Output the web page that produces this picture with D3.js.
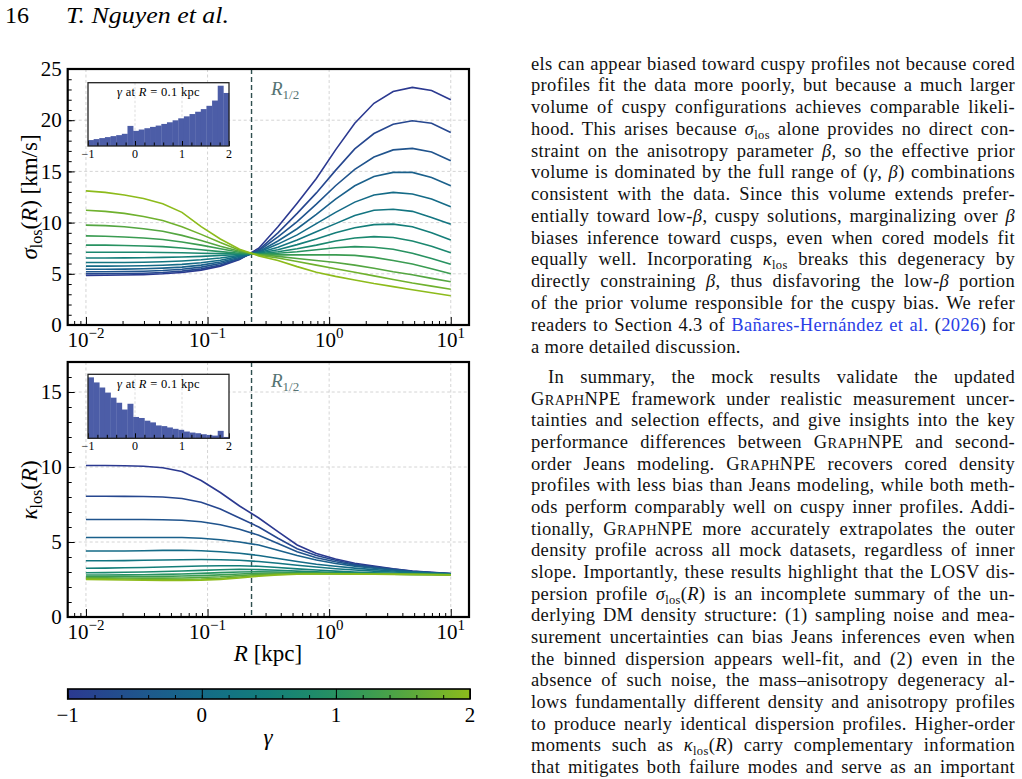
<!DOCTYPE html>
<html>
<head>
<meta charset="utf-8">
<title>sigma / kappa profiles</title>
<script src="https://cdnjs.cloudflare.com/ajax/libs/d3/7.8.5/d3.min.js"></script>
<style>
  body { margin: 0; background: #fff; }
  svg { display: block; font-family: "Liberation Serif", "Times New Roman", serif; }
</style>
</head>
<body>
<svg id="fig" width="1022" height="779"></svg>
<script>
// ---- data ----
const radius = [0.01, 0.01438, 0.02069, 0.02976, 0.04281, 0.06159, 0.08859, 0.1274, 0.1833, 0.2637,
                0.3793, 0.5456, 0.7848, 1.129, 1.624, 2.336, 3.360, 4.833, 6.952, 10];
const gammaValues = [-1, -0.75, -0.5, -0.25, 0, 0.25, 0.5, 0.75, 1, 1.25, 1.5, 1.75, 2];

// sigma_los(R) [km/s], one row per gamma
const sigmaLos = [
  [4.85,4.86,4.88,4.92,5.0,5.13,5.36,5.75,6.4,7.5,9.6,11.9,14.3,17.1,19.7,21.65,22.8,23.2,22.9,22.0],
  [5.0,5.0,5.02,5.06,5.13,5.26,5.48,5.85,6.45,7.35,9.0,10.9,12.9,15.1,17.2,18.7,19.6,19.95,19.7,18.8],
  [5.2,5.2,5.22,5.25,5.32,5.44,5.65,6.0,6.5,7.25,8.6,10.1,11.8,13.6,15.2,16.4,17.1,17.25,16.9,16.05],
  [5.45,5.45,5.46,5.49,5.55,5.65,5.85,6.15,6.6,7.15,8.2,9.4,10.8,12.3,13.6,14.5,14.9,14.9,14.4,13.6],
  [5.75,5.75,5.76,5.78,5.83,5.92,6.08,6.32,6.7,7.1,7.9,8.8,9.9,11.0,12.0,12.7,12.95,12.8,12.3,11.55],
  [6.1,6.1,6.11,6.13,6.17,6.25,6.37,6.55,6.8,7.05,7.6,8.3,9.1,9.9,10.7,11.2,11.3,11.1,10.5,9.83],
  [6.55,6.55,6.56,6.57,6.6,6.64,6.7,6.78,6.88,7.0,7.35,7.85,8.4,9.0,9.5,9.8,9.85,9.6,9.0,8.3],
  [7.1,7.1,7.1,7.1,7.08,7.05,7.0,6.97,6.93,6.95,7.15,7.45,7.8,8.2,8.5,8.63,8.55,8.2,7.7,7.06],
  [7.8,7.8,7.77,7.72,7.65,7.52,7.35,7.17,7.0,6.92,7.0,7.15,7.35,7.55,7.65,7.6,7.4,7.0,6.5,5.93],
  [8.7,8.67,8.6,8.5,8.35,8.1,7.8,7.45,7.1,6.9,6.85,6.85,6.85,6.85,6.8,6.6,6.3,5.95,5.5,5.01],
  [9.75,9.7,9.6,9.4,9.15,8.75,8.25,7.7,7.2,6.88,6.7,6.5,6.3,6.1,5.85,5.55,5.2,4.9,4.55,4.23],
  [11.2,11.1,10.9,10.6,10.2,9.6,8.85,8.05,7.3,6.82,6.55,6.2,5.85,5.5,5.15,4.8,4.45,4.1,3.8,3.49],
  [13.1,12.95,12.7,12.35,11.85,11.0,9.6,8.4,7.4,6.75,6.3,5.7,5.15,4.75,4.4,4.05,3.75,3.45,3.15,2.86]
];

// kappa_los(R), one row per gamma
const kappaLos = [
  [10.1,10.1,10.08,10.05,9.95,9.7,9.1,8.3,7.4,6.6,5.69,4.8,4.24,3.87,3.58,3.4,3.22,3.07,2.98,2.9],
  [8.05,8.05,8.04,8.03,8.0,7.9,7.65,7.2,6.6,6.0,5.25,4.55,4.1,3.78,3.52,3.35,3.19,3.05,2.97,2.9],
  [6.5,6.5,6.5,6.5,6.48,6.45,6.35,6.15,5.85,5.45,4.9,4.35,3.95,3.68,3.46,3.3,3.16,3.03,2.95,2.88],
  [5.3,5.3,5.3,5.3,5.3,5.3,5.25,5.15,5.0,4.8,4.45,4.1,3.8,3.57,3.39,3.25,3.13,3.02,2.94,2.88],
  [4.4,4.4,4.4,4.42,4.44,4.45,4.42,4.35,4.25,4.1,3.9,3.7,3.52,3.38,3.26,3.16,3.07,2.99,2.93,2.87],
  [3.75,3.75,3.76,3.78,3.8,3.82,3.83,3.82,3.78,3.7,3.58,3.45,3.33,3.22,3.13,3.06,3.0,2.95,2.9,2.86],
  [3.25,3.26,3.28,3.3,3.33,3.37,3.4,3.42,3.42,3.38,3.3,3.21,3.13,3.06,3.0,2.95,2.92,2.89,2.87,2.85],
  [2.95,2.96,2.98,3.0,3.03,3.07,3.11,3.15,3.18,3.16,3.12,3.06,3.01,2.97,2.94,2.91,2.89,2.87,2.85,2.84],
  [2.8,2.8,2.81,2.82,2.84,2.87,2.91,2.96,3.0,3.02,3.0,2.97,2.94,2.92,2.9,2.88,2.86,2.85,2.84,2.83],
  [2.7,2.7,2.7,2.7,2.71,2.73,2.76,2.81,2.87,2.92,2.93,2.92,2.91,2.9,2.88,2.87,2.85,2.84,2.83,2.82],
  [2.62,2.61,2.6,2.59,2.59,2.6,2.63,2.68,2.76,2.84,2.88,2.89,2.89,2.88,2.87,2.86,2.85,2.84,2.83,2.82],
  [2.56,2.55,2.53,2.52,2.51,2.51,2.53,2.58,2.67,2.77,2.84,2.87,2.88,2.88,2.87,2.86,2.85,2.84,2.83,2.81],
  [2.5,2.49,2.47,2.45,2.44,2.44,2.46,2.51,2.6,2.72,2.8,2.85,2.87,2.87,2.86,2.85,2.84,2.83,2.82,2.8]
];

// inset histograms: gamma at R = 0.1 kpc
const gammaBinEdges = [-1,-0.88,-0.76,-0.64,-0.52,-0.4,-0.28,-0.16,-0.04,0.08,0.2,0.32,0.44,
                       0.56,0.68,0.8,0.92,1.04,1.16,1.28,1.4,1.52,1.64,1.76,1.88,2];
const histSigma = [18,21,24,27,30,33,37,61,46,50,54,58,62,67,72,78,84,90,97,104,112,122,138,183,161];
const histKappa = [180,165,150,135,120,105,85,102,63,60,52,47,38,36,32,28,25,20,17,15,12,10,8,22,4];

const rHalf = 0.23;
const xTickExponents = [-2, -1, 0, 1];
const insetTicks = [-1, 0, 1, 2];
const cbarTicks = [-1, 0, 1, 2];

// ---- page text ----
const para1 = [
  "els can appear biased toward cuspy profiles not because cored",
  "profiles fit the data more poorly, but because a much larger",
  "volume of cuspy configurations achieves comparable likeli-",
  "hood. This arises because *σ*_los_ alone provides no direct con-",
  "straint on the anisotropy parameter *β*, so the effective prior",
  "volume is dominated by the full range of (*γ*, *β*) combinations",
  "consistent with the data. Since this volume extends prefer-",
  "entially toward low-*β*, cuspy solutions, marginalizing over *β*",
  "biases inference toward cusps, even when cored models fit",
  "equally well. Incorporating *κ*_los_ breaks this degeneracy by",
  "directly constraining *β*, thus disfavoring the low-*β* portion",
  "of the prior volume responsible for the cuspy bias. We refer",
  "readers to Section 4.3 of [Bañares-Hernández et al.] ([2026]) for",
  "a more detailed discussion."
];
const para2 = [
  "In summary, the mock results validate the updated",
  "^Graph^NPE framework under realistic measurement uncer-",
  "tainties and selection effects, and give insights into the key",
  "performance differences between ^Graph^NPE and second-",
  "order Jeans modeling. ^Graph^NPE recovers cored density",
  "profiles with less bias than Jeans modeling, while both meth-",
  "ods perform comparably well on cuspy inner profiles. Addi-",
  "tionally, ^Graph^NPE more accurately extrapolates the outer",
  "density profile across all mock datasets, regardless of inner",
  "slope. Importantly, these results highlight that the LOSV dis-",
  "persion profile *σ*_los_(*R*) is an incomplete summary of the un-",
  "derlying DM density structure: (1) sampling noise and mea-",
  "surement uncertainties can bias Jeans inferences even when",
  "the binned dispersion appears well-fit, and (2) even in the",
  "absence of such noise, the mass–anisotropy degeneracy al-",
  "lows fundamentally different density and anisotropy profiles",
  "to produce nearly identical dispersion profiles. Higher-order",
  "moments such as *κ*_los_(*R*) carry complementary information",
  "that mitigates both failure modes and serve as an important"
];

const svg = d3.select("#fig");
svg.append("rect").attr("width", 1022).attr("height", 779).attr("fill", "#fff");

// colormap (blue -> teal -> green -> yellow-green)
const cmap = d3.scaleSequential(d3.interpolateRgbBasis(
  ["#2b3990", "#1e5a8d", "#0f7385", "#178a6f", "#45a249", "#8dbb1b"])).domain([-1, 2]);

// header
svg.append("text").attr("x", 5).attr("y", 23).attr("font-size", 24).text("16");
svg.append("text").attr("x", 66).attr("y", 23).attr("font-size", 24).attr("font-style", "italic")
  .attr("textLength", 163).attr("lengthAdjust", "spacingAndGlyphs").text("T. Nguyen et al.");

const xScale = d3.scaleLog().domain([Math.pow(10, -2.15), Math.pow(10, 1.15)]).range([67.7, 469]);
const xMinor = [];
[-3, -2, -1, 0].forEach(e => { for (let k = 2; k <= 9; k++) { const v = k * Math.pow(10, e); if (v > xScale.domain()[0] && v < xScale.domain()[1]) xMinor.push(v); } });

function tidy(sel) {
  sel.selectAll(".domain").remove();
  sel.selectAll("line").attr("stroke-width", 1).attr("stroke", "#000");
  sel.attr("font-family", null).attr("font-size", null);
}

function drawPanel(cfg) {
  const g = svg.append("g");
  const y = d3.scaleLinear().domain([0, cfg.yMax]).range([cfg.bottom, cfg.top]);
  const left = xScale.range()[0], right = xScale.range()[1];
  const yMajor = d3.range(0, cfg.yMax + 0.01, 5);

  // grid
  g.selectAll(".hgrid").data(yMajor.filter(v => v > 0 && v < cfg.yMax)).join("line")
    .attr("x1", left).attr("x2", right).attr("y1", d => y(d)).attr("y2", d => y(d))
    .attr("stroke", "#c9c9c9").attr("stroke-width", 0.8).attr("stroke-dasharray", "3,2.5");
  g.selectAll(".vgrid").data(xTickExponents).join("line")
    .attr("x1", d => xScale(Math.pow(10, d))).attr("x2", d => xScale(Math.pow(10, d)))
    .attr("y1", cfg.top).attr("y2", cfg.bottom)
    .attr("stroke", "#c9c9c9").attr("stroke-width", 0.8).attr("stroke-dasharray", "3,2.5");

  // R_1/2 marker
  g.append("line").attr("x1", xScale(rHalf)).attr("x2", xScale(rHalf))
    .attr("y1", cfg.top).attr("y2", cfg.bottom)
    .attr("stroke", "#2f4f4f").attr("stroke-width", 1.4).attr("stroke-dasharray", "5,3");
  const rl = g.append("text").attr("x", 271).attr("y", cfg.rLabelY).attr("fill", "#557373").attr("font-size", 19);
  rl.append("tspan").attr("font-style", "italic").text("R");
  rl.append("tspan").attr("font-size", 13).attr("dy", 4).text("1/2");

  // curves
  const line = d3.line().x(d => xScale(d[0])).y(d => y(d[1]));
  g.selectAll(".curve").data(cfg.values.map((row, k) => ({ gamma: gammaValues[k], pts: radius.map((r, i) => [r, row[i]]) })))
    .join("path")
    .attr("d", d => line(d.pts)).attr("fill", "none")
    .attr("stroke", d => cmap(d.gamma)).attr("stroke-width", 1.6);

  // inset histogram
  drawInset(g, cfg);

  // frame
  g.append("rect").attr("x", left).attr("y", cfg.top).attr("width", right - left).attr("height", cfg.bottom - cfg.top)
    .attr("fill", "none").attr("stroke", "#000").attr("stroke-width", 2.2);

  // x ticks (inward)
  const gxMaj = g.append("g").attr("transform", `translate(0,${cfg.bottom})`)
    .call(d3.axisBottom(xScale).tickValues(xTickExponents.map(e => Math.pow(10, e))).tickSize(-8).tickFormat(""));
  const gxMin = g.append("g").attr("transform", `translate(0,${cfg.bottom})`)
    .call(d3.axisBottom(xScale).tickValues(xMinor).tickSize(-4).tickFormat(""));
  tidy(gxMaj); tidy(gxMin);

  xTickExponents.forEach(e => {
    const t = g.append("text").attr("x", xScale(Math.pow(10, e))).attr("y", cfg.bottom + 22)
      .attr("text-anchor", "middle").attr("font-size", 21);
    t.append("tspan").text("10");
    t.append("tspan").attr("font-size", 15).attr("dy", -9).text(String(e).replace("-", "−"));
  });

  // y ticks (inward)
  const gyMaj = g.append("g").attr("transform", `translate(${left},0)`)
    .call(d3.axisLeft(y).tickValues(yMajor).tickSize(-7).tickPadding(6).tickFormat(d3.format("d")));
  const gyMin = g.append("g").attr("transform", `translate(${left},0)`)
    .call(d3.axisLeft(y).tickValues(d3.range(0, cfg.yMax + 0.01, 1)).tickSize(-4).tickFormat(""));
  tidy(gyMaj); tidy(gyMin);
  gyMaj.selectAll("text").attr("font-size", 21).attr("fill", "#000");

  // y label
  const yl = g.append("text").attr("transform", `translate(37,${cfg.labelY}) rotate(-90)`)
    .attr("text-anchor", "middle").attr("font-size", 23);
  yl.append("tspan").attr("font-style", "italic").text(cfg.sym);
  yl.append("tspan").attr("font-size", 16).attr("dy", 5).text("los");
  yl.append("tspan").attr("dy", -5).text("(");
  yl.append("tspan").attr("font-style", "italic").text("R");
  yl.append("tspan").text(cfg.unit);
}

function drawInset(g, cfg) {
  const x0 = 88, w = 141, y0 = cfg.insetTop, h = cfg.insetH;
  const xs = d3.scaleLinear().domain([-1, 2]).range([x0, x0 + w]);
  const ys = d3.scaleLinear().domain([0, d3.max(cfg.hist) * 1.05]).range([y0 + h, y0]);
  const ig = g.append("g");
  ig.append("rect").attr("x", x0).attr("y", y0).attr("width", w).attr("height", h).attr("fill", "#fff");
  ig.selectAll(".ig").data([0, 1]).join("line")
    .attr("x1", d => xs(d)).attr("x2", d => xs(d)).attr("y1", y0).attr("y2", y0 + h)
    .attr("stroke", "#cfcfcf").attr("stroke-width", 0.7).attr("stroke-dasharray", "2.5,2");
  ig.selectAll(".bar").data(cfg.hist).join("rect")
    .attr("x", (d, i) => xs(gammaBinEdges[i]))
    .attr("width", (d, i) => xs(gammaBinEdges[i + 1]) - xs(gammaBinEdges[i]) + 0.3)
    .attr("y", d => ys(d)).attr("height", d => ys(0) - ys(d))
    .attr("fill", "#4c5da7");
  const axMaj = ig.append("g").attr("transform", `translate(0,${y0 + h})`)
    .call(d3.axisBottom(xs).tickValues(insetTicks).tickSize(-5).tickFormat(""));
  const axMin = ig.append("g").attr("transform", `translate(0,${y0 + h})`)
    .call(d3.axisBottom(xs).tickValues(d3.range(-1, 2.001, 0.2)).tickSize(-3.5).tickFormat(""));
  tidy(axMaj); tidy(axMin);
  ig.append("rect").attr("x", x0).attr("y", y0).attr("width", w).attr("height", h)
    .attr("fill", "none").attr("stroke", "#222").attr("stroke-width", 1.3);
  insetTicks.forEach(v => {
    ig.append("text").attr("x", xs(v)).attr("y", y0 + h + 12).attr("text-anchor", "middle")
      .attr("font-size", 12).text(String(v).replace("-", "−"));
  });
  const tt = ig.append("text").attr("x", x0 + w / 2).attr("y", cfg.titleY).attr("text-anchor", "middle")
    .attr("font-size", 12.5).attr("letter-spacing", 0.3);
  tt.append("tspan").attr("font-style", "italic").text("γ");
  tt.append("tspan").text(" at ");
  tt.append("tspan").attr("font-style", "italic").text("R");
  tt.append("tspan").text(" = 0.1 kpc");
}

drawPanel({ top: 69, bottom: 325, yMax: 25, values: sigmaLos, hist: histSigma,
  insetTop: 82.7, insetH: 63.3, titleY: 96, rLabelY: 95, labelY: 197, sym: "σ", unit: ") [km/s]" });
drawPanel({ top: 362, bottom: 617, yMax: 17, values: kappaLos, hist: histKappa,
  insetTop: 374.3, insetH: 64, titleY: 388, rLabelY: 387, labelY: 490, sym: "κ", unit: ")" });

// x label
const xl = svg.append("text").attr("x", 268).attr("y", 661).attr("text-anchor", "middle").attr("font-size", 23);
xl.append("tspan").attr("font-style", "italic").text("R");
xl.append("tspan").text(" [kpc]");

// colorbar
const cbX = d3.scaleLinear().domain([-1, 2]).range([67.7, 470]);
const cbTop = 689, cbH = 10;
const grad = svg.append("defs").append("linearGradient").attr("id", "cbgrad");
grad.selectAll("stop").data(d3.range(0, 1.0001, 0.05)).join("stop")
  .attr("offset", d => d).attr("stop-color", d => cmap(-1 + 3 * d));
svg.append("rect").attr("x", cbX(-1)).attr("y", cbTop).attr("width", cbX(2) - cbX(-1)).attr("height", cbH)
  .attr("fill", "url(#cbgrad)");
const cbMaj = svg.append("g").attr("transform", `translate(0,${cbTop + cbH})`)
  .call(d3.axisBottom(cbX).tickValues(cbarTicks).tickSize(-cbH).tickFormat(""));
const cbMin = svg.append("g").attr("transform", `translate(0,${cbTop + cbH})`)
  .call(d3.axisBottom(cbX).tickValues(d3.range(-1, 2.001, 0.2)).tickSize(-4).tickFormat(""));
tidy(cbMaj); tidy(cbMin);
svg.append("rect").attr("x", cbX(-1)).attr("y", cbTop).attr("width", cbX(2) - cbX(-1)).attr("height", cbH)
  .attr("fill", "none").attr("stroke", "#000").attr("stroke-width", 1.6);
cbarTicks.forEach(v => {
  svg.append("text").attr("x", cbX(v)).attr("y", 722).attr("text-anchor", "middle").attr("font-size", 21)
    .text(String(v).replace("-", "−"));
});
svg.append("text").attr("x", 268).attr("y", 745).attr("text-anchor", "middle").attr("font-size", 23)
  .attr("font-style", "italic").text("γ");

// ---- text column ----
const colLeft = 531, colRight = 1015, bodySize = 18.5, bodyTracking = 0.35;
function writeLine(str, x, y, justify) {
  const t = svg.append("text").attr("x", x).attr("y", y).attr("font-size", bodySize)
    .attr("letter-spacing", bodyTracking).attr("fill", "#111");
  const parts = str.split(/(\*[^*]+\*|_[^_]+_|\^[^^]+\^|\[[^\]]+\])/).filter(s => s.length);
  let lowered = false;
  parts.forEach(p => {
    const inner = p.slice(1, -1);
    let ts;
    if (p[0] === "_") {
      t.append("tspan").attr("font-size", 12.5).attr("dy", 4).text(inner);
      lowered = true;
      return;
    }
    const back = lowered ? -4 : null;
    lowered = false;
    if (p[0] === "*") {
      ts = t.append("tspan").attr("font-style", "italic").text(inner);
    } else if (p[0] === "^") {
      ts = t.append("tspan").text(inner[0]);
      t.append("tspan").attr("font-size", bodySize * 0.78).text(inner.slice(1).toUpperCase());
    } else if (p[0] === "[") {
      ts = t.append("tspan").attr("fill", "#2a3ee6").text(inner);
    } else {
      ts = t.append("tspan").text(p);
    }
    if (back !== null) ts.attr("dy", back);
  });
  if (justify) {
    const w = t.node().getComputedTextLength();
    const spaces = (t.text().match(/ /g) || []).length;
    if (spaces > 0) t.attr("word-spacing", ((colRight - x) - w) / spaces);
  }
}
para1.forEach((s, i) => writeLine(s, colLeft, 69.5 + i * 21.77, i < para1.length - 1));
para2.forEach((s, i) => writeLine(s, i === 0 ? colLeft + 17 : colLeft, 383 + i * 21.67, true));
</script>
</body>
</html>
